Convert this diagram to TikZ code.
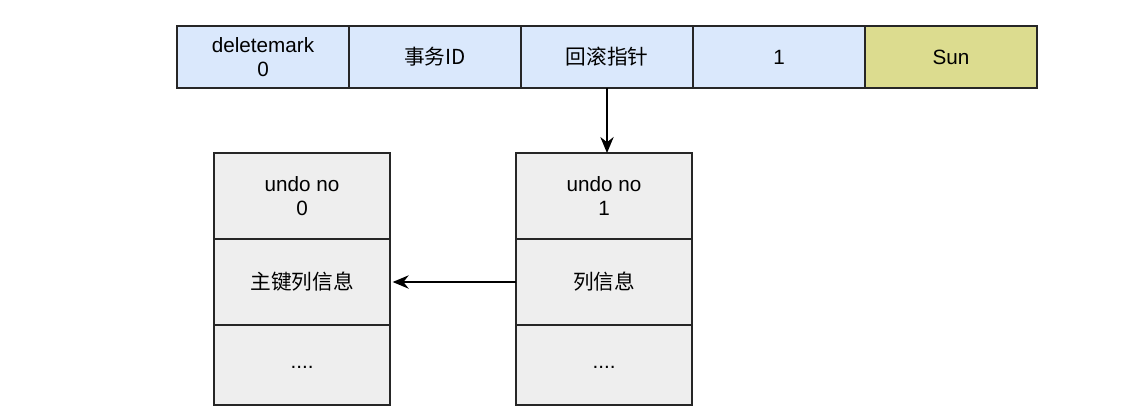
\documentclass[tikz,border=0pt]{standalone}
\usepackage{fontspec}
\setmainfont{Liberation Sans}
\newfontfamily\cjk{Noto Sans CJK SC}
\usetikzlibrary{arrows.meta,positioning}
\definecolor{fieldblue}{HTML}{DAE8FC}
\definecolor{namegreen}{HTML}{DCDC8F}
\definecolor{undogray}{HTML}{EEEEEE}
\tikzset{
  cell/.style = {draw=black!85, line width=1.1pt, outer sep=0pt, inner sep=0pt,
                 align=center, font=\fontsize{15.5}{18}\selectfont},
  field/.style = {cell, fill=fieldblue, minimum width=129pt, minimum height=46.5pt},
  undorow/.style = {cell, fill=undogray, minimum width=132pt, minimum height=64.5pt},
  link/.style = {line width=1.2pt, -{Stealth[length=12pt,width=10pt]}}
}
\begin{document}
\begin{tikzpicture}[x=0.75pt, y=-0.75pt]
    \useasboundingbox (0,0) rectangle (1141,412);
    % record in the clustered index
    \node[field, anchor=north west] (mark) at (177,26) {deletemark\\0};
    \node[field, right=0pt of mark] (trx) {\cjk 事务ID};
    \node[field, right=0pt of trx] (ptr) {\cjk 回滚指针};
    \node[field, right=0pt of ptr] (id) {1};
    \node[field, fill=namegreen, right=0pt of id] (name) {Sun};
    % undo log records
    \node[undorow, anchor=north west] (undoa) at (214,153) {undo no\\0};
    \node[undorow, below=0pt of undoa] (undoakey) {\cjk 主键列信息};
    \node[undorow, minimum height=60pt, below=0pt of undoakey] (undoarest) {\raisebox{-5pt}{....}};
    \node[undorow, anchor=north west] (undob) at (516,153) {undo no\\1};
    \node[undorow, below=0pt of undob] (undobcol) {\cjk 列信息};
    \node[undorow, minimum height=60pt, below=0pt of undobcol] (undobrest) {\raisebox{-5pt}{....}};
    % pointers
    \draw[link] (ptr.south) -- (ptr.south |- undob.north);
    \draw[link, shorten >=2pt] (undobcol.west) -- (undoakey.east);
\end{tikzpicture}
\end{document}
